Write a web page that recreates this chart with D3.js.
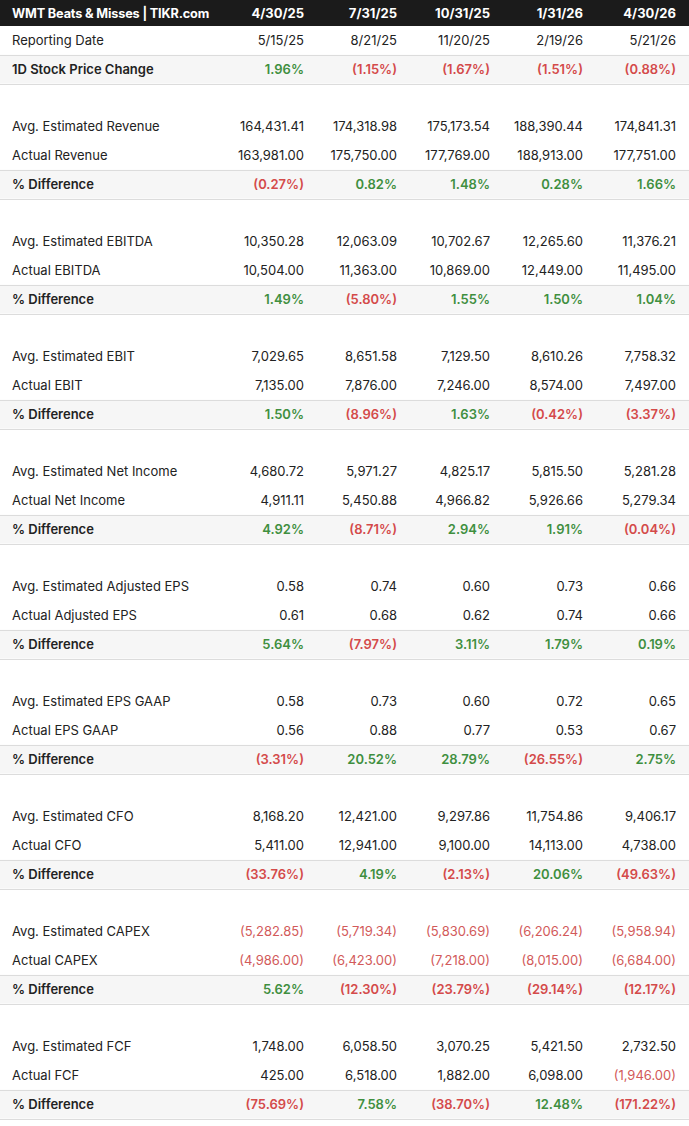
<!DOCTYPE html>
<html>
<head>
<meta charset="utf-8">
<script src="https://cdn.jsdelivr.net/npm/d3@7"></script>
<style>
  html, body { margin: 0; padding: 0; background: #fff; }
  svg { display: block; font-family: Inter, "Noto Sans", sans-serif; }
</style>
</head>
<body>
<svg id="chart" width="689" height="1126"></svg>
<script>
// Table data
const title = 'WMT Beats & Misses | TIKR.com';
const periods = ['4/30/25', '7/31/25', '10/31/25', '1/31/26', '4/30/26'];
const reportDates = ['5/15/25', '8/21/25', '11/20/25', '2/19/26', '5/21/26'];
const priceChange = [1.96, -1.15, -1.67, -1.51, -0.88];

const metricNames = ['Revenue', 'EBITDA', 'EBIT', 'Net Income', 'Adjusted EPS', 'EPS GAAP', 'CFO', 'CAPEX', 'FCF'];

const revenueEst = [164431.41, 174318.98, 175173.54, 188390.44, 174841.31];
const revenueAct = [163981.00, 175750.00, 177769.00, 188913.00, 177751.00];
const revenueDiff = [-0.27, 0.82, 1.48, 0.28, 1.66];

const ebitdaEst = [10350.28, 12063.09, 10702.67, 12265.60, 11376.21];
const ebitdaAct = [10504.00, 11363.00, 10869.00, 12449.00, 11495.00];
const ebitdaDiff = [1.49, -5.80, 1.55, 1.50, 1.04];

const ebitEst = [7029.65, 8651.58, 7129.50, 8610.26, 7758.32];
const ebitAct = [7135.00, 7876.00, 7246.00, 8574.00, 7497.00];
const ebitDiff = [1.50, -8.96, 1.63, -0.42, -3.37];

const netIncomeEst = [4680.72, 5971.27, 4825.17, 5815.50, 5281.28];
const netIncomeAct = [4911.11, 5450.88, 4966.82, 5926.66, 5279.34];
const netIncomeDiff = [4.92, -8.71, 2.94, 1.91, -0.04];

const adjEpsEst = [0.58, 0.74, 0.60, 0.73, 0.66];
const adjEpsAct = [0.61, 0.68, 0.62, 0.74, 0.66];
const adjEpsDiff = [5.64, -7.97, 3.11, 1.79, 0.19];

const gaapEpsEst = [0.58, 0.73, 0.60, 0.72, 0.65];
const gaapEpsAct = [0.56, 0.88, 0.77, 0.53, 0.67];
const gaapEpsDiff = [-3.31, 20.52, 28.79, -26.55, 2.75];

const cfoEst = [8168.20, 12421.00, 9297.86, 11754.86, 9406.17];
const cfoAct = [5411.00, 12941.00, 9100.00, 14113.00, 4738.00];
const cfoDiff = [-33.76, 4.19, -2.13, 20.06, -49.63];

const capexEst = [-5282.85, -5719.34, -5830.69, -6206.24, -5958.94];
const capexAct = [-4986.00, -6423.00, -7218.00, -8015.00, -6684.00];
const capexDiff = [5.62, -12.30, -23.79, -29.14, -12.17];

const fcfEst = [1748.00, 6058.50, 3070.25, 5421.50, 2732.50];
const fcfAct = [425.00, 6518.00, 1882.00, 6098.00, -1946.00];
const fcfDiff = [-75.69, 7.58, -38.70, 12.48, -171.22];

const estimates = [revenueEst, ebitdaEst, ebitEst, netIncomeEst, adjEpsEst, gaapEpsEst, cfoEst, capexEst, fcfEst];
const actuals = [revenueAct, ebitdaAct, ebitAct, netIncomeAct, adjEpsAct, gaapEpsAct, cfoAct, capexAct, fcfAct];
const diffs = [revenueDiff, ebitdaDiff, ebitDiff, netIncomeDiff, adjEpsDiff, gaapEpsDiff, cfoDiff, capexDiff, fcfDiff];

const GREEN = '#3f8f3f', RED = '#d44a4a', SOFT_RED = '#d25a5a', TEXT = '#222';

// Build rows (after header)
const rows = [];
rows.push({ kind: 'date', label: 'Reporting Date', values: reportDates });
rows.push({ kind: 'pct', label: '1D Stock Price Change', values: priceChange });
metricNames.forEach((m, i) => {
  rows.push({ kind: 'blank' });
  rows.push({ kind: 'num', label: 'Avg. Estimated ' + m, values: estimates[i] });
  rows.push({ kind: 'num', label: 'Actual ' + m, values: actuals[i] });
  rows.push({ kind: 'pct', label: '% Difference', values: diffs[i] });
});

const W = 689, headerH = 26, rowH = 28.75;
const svg = d3.select('#chart');

const y = d3.scaleBand()
  .domain(d3.range(rows.length))
  .range([headerH, headerH + rows.length * rowH]);
const x = d3.scaleLinear().domain([0, 4]).range([304, 676]);

const fmtNum = d3.format(',.2f');
const fmtNumber = v => v < 0 ? '(' + fmtNum(-v) + ')' : fmtNum(v);
const fmtPct = v => v < 0 ? '(' + fmtNum(-v) + '%)' : fmtNum(v) + '%';

// header
svg.append('rect').attr('x', 0).attr('y', 0).attr('width', W).attr('height', headerH).attr('fill', '#1b1b1b');
svg.append('text')
  .attr('x', 12).attr('y', headerH / 2).attr('dy', '0.36em')
  .attr('fill', '#fff').attr('font-size', 12.7).attr('font-weight', 700)
  .attr('letter-spacing', -0.15)
  .text(title);
svg.append('g').selectAll('text').data(periods).join('text')
  .attr('x', (d, i) => x(i)).attr('y', headerH / 2).attr('dy', '0.36em')
  .attr('text-anchor', 'end')
  .attr('fill', '#fff').attr('font-size', 13).attr('font-weight', 700)
  .text(d => d);

// shaded rows
const shaded = rows.map((r, i) => ({ r, i })).filter(d => d.r.kind === 'pct');
svg.append('g').selectAll('rect').data(shaded).join('rect')
  .attr('x', 0).attr('width', W)
  .attr('y', d => y(d.i)).attr('height', y.bandwidth())
  .attr('fill', '#f6f6f6');

// separator lines
const lineYs = [];
rows.forEach((r, i) => {
  if (r.kind === 'date') lineYs.push(y(i) + rowH);
  if (r.kind === 'pct') { lineYs.push(y(i)); lineYs.push(y(i) + rowH); }
});
svg.append('g').selectAll('line').data(lineYs).join('line')
  .attr('x1', 0).attr('x2', W)
  .attr('y1', d => Math.round(d) + 0.5).attr('y2', d => Math.round(d) + 0.5)
  .attr('stroke', '#dcdcdc').attr('stroke-width', 1);

// row contents
const body = svg.append('g');
const rowG = body.selectAll('g.row')
  .data(rows.map((r, i) => ({ ...r, i })).filter(d => d.kind !== 'blank'))
  .join('g').attr('class', 'row')
  .attr('transform', d => `translate(0,${y(d.i) + rowH / 2})`);

rowG.append('text')
  .attr('x', 12).attr('dy', '0.36em')
  .attr('font-size', 13)
  .attr('font-weight', d => d.kind === 'pct' ? 600 : 400)
  .attr('fill', TEXT)
  .text(d => d.label);

rowG.each(function(d) {
  d3.select(this).selectAll('text.val')
    .data(d.values)
    .join('text').attr('class', 'val')
    .attr('x', (v, j) => x(j)).attr('dy', '0.36em')
    .attr('text-anchor', 'end')
    .attr('font-size', 13)
    .attr('font-weight', d.kind === 'pct' ? 600 : 400)
    .attr('fill', v => {
      if (d.kind === 'pct') return v < 0 ? RED : GREEN;
      if (d.kind === 'num' && v < 0) return SOFT_RED;
      return TEXT;
    })
    .text(v => d.kind === 'date' ? v : d.kind === 'pct' ? fmtPct(v) : fmtNumber(v));
});
</script>
</body>
</html>
